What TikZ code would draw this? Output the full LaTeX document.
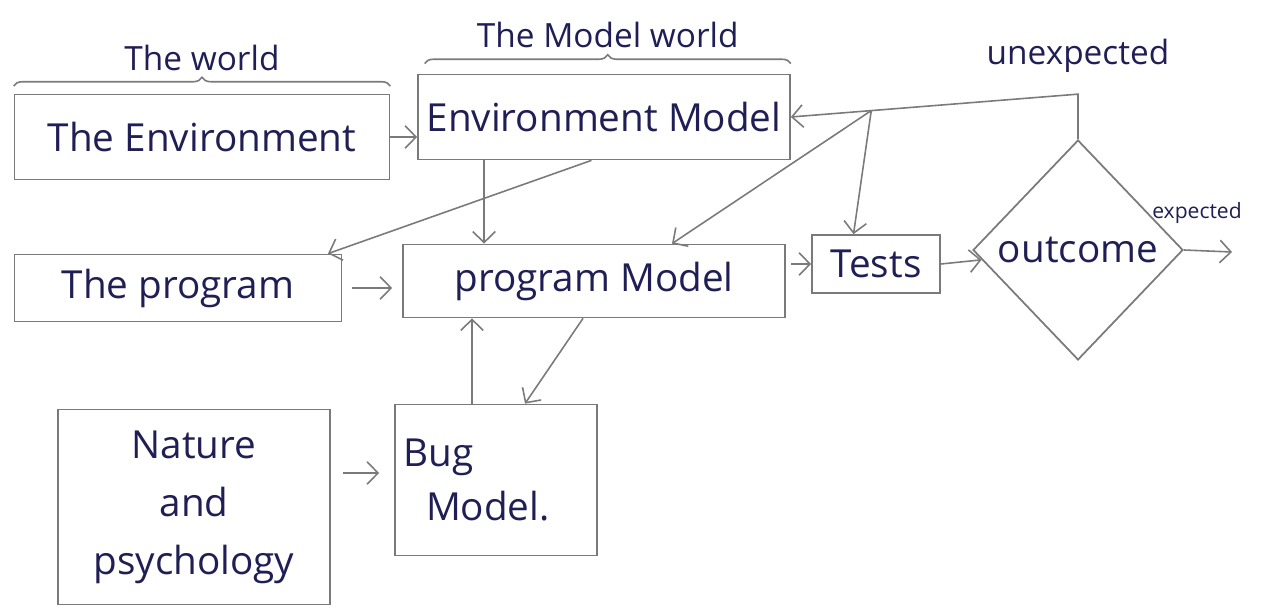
\documentclass[tikz,border=0pt]{standalone}
\usepackage{fontspec}
\setmainfont{Open Sans}
\usepackage{tikz}
\usetikzlibrary{shapes.geometric,arrows.meta,positioning,calc,decorations.pathreplacing}
\definecolor{ink}{HTML}{1F1F55}
\definecolor{pencil}{HTML}{7A7A7A}

\begin{document}
\begin{tikzpicture}[
        x=0.02cm, y=-0.02cm,
        block/.style={rectangle, draw=pencil, line width=1pt, text=ink, inner xsep=2pt, font=\fontsize{22}{26}\selectfont},
        decision/.style={diamond, draw=pencil, line width=1pt, text=ink, aspect=1, inner sep=0pt, minimum width=4.2cm, minimum height=4.4cm, font=\fontsize{22}{26}\selectfont},
        line/.style={draw=pencil, line width=0.9pt, -{Straight Barb[length=2.2mm, width=4.5mm]}},
        note/.style={text=ink, font=\fontsize{19}{23}\selectfont},
        grp/.style={draw=pencil, line width=0.9pt, decorate, decoration={brace, amplitude=5pt}}
    ]
    \useasboundingbox (0,0) rectangle (1266,611);
    \node [block, minimum width=7.5cm, minimum height=1.7cm] (env) at (202,137) {The Environment};
    \node [block, minimum width=7.44cm, minimum height=1.7cm] (envmodel) at (604,117) {Environment Model};
    \node [block, minimum width=6.54cm, minimum height=1.34cm] (prog) at (178,288) {The program};
    \node [block, minimum width=7.64cm, minimum height=1.46cm] (progmodel) at (594,281) {program Model};
    \node [block, minimum width=2.56cm, minimum height=1.16cm] (tests) at (876,264) {Tests};
    \node [decision] (outcome) at (1078,250) {outcome};
    \node [block, minimum width=5.44cm, minimum height=3.9cm, align=center, font=\fontsize{22}{33}\selectfont] (nature) at (194,507) {Nature\\and\\psychology};
    \node [block, minimum width=4.04cm, minimum height=3.02cm, text width=3.7cm, align=left, font=\fontsize{22}{31}\selectfont] (bug) at (496,480) {Bug\\\hspace*{0.45cm}Model.};
    % group labels
    \draw [grp] ([yshift=0.15cm]env.north west) -- ([yshift=0.15cm]env.north east) node [note, midway, above=5pt] (worldlbl) {The world};
    \draw [grp] ([xshift=0.15cm, yshift=0.2cm]envmodel.north west) -- ([yshift=0.2cm]envmodel.north east) node [note, midway, above=5pt] (modellbl) {The Model world};
    % forward flow
    \path [line] (env) -- (env -| envmodel.west);
    \path [line] ([xshift=-2.4cm]envmodel.south) -- ([xshift=-2.4cm]envmodel.south |- progmodel.north);
    \path [line] ([xshift=-0.25cm]envmodel.south) -- ([xshift=3cm]prog.north);
    \path [line, shorten <=2mm, shorten >=2mm] (prog) -- (prog -| progmodel.west);
    \path [line, shorten <=1mm] (tests -| progmodel.east) -- (tests.west);
    \path [line] (tests.east) -- (outcome);
    \coordinate (exp) at (1232,252);
    \path [line] (outcome.east) -- (exp);
    \node [note, font=\fontsize{12}{14}\selectfont] (explbl) at (1197,213) {expected};
    % feedback
    \path [line] (outcome.north) -- ++(0,0.9cm) coordinate (ret) -- (envmodel.east);
    \node [note, above=0.3cm of ret] (unexp) {unexpected};
    \coordinate (split) at ($(ret)!0.72!(envmodel.east)$);
    \path [line] (split) -- ([xshift=-0.45cm]tests.north);
    \path [line] (split) -- ([xshift=1.56cm]progmodel.north);
    % bug model loop
    \path [line] ([xshift=-0.22cm]progmodel.south) -- ([xshift=0.58cm]bug.north);
    \path [line] ([xshift=-0.48cm]bug.north) -- ([xshift=-0.48cm]bug.north |- progmodel.south);
    \path [line, shorten <=2.5mm, shorten >=3mm] ([yshift=0.68cm]nature.east) -- ([yshift=0.68cm]nature.east -| bug.west);
\end{tikzpicture}
\end{document}
